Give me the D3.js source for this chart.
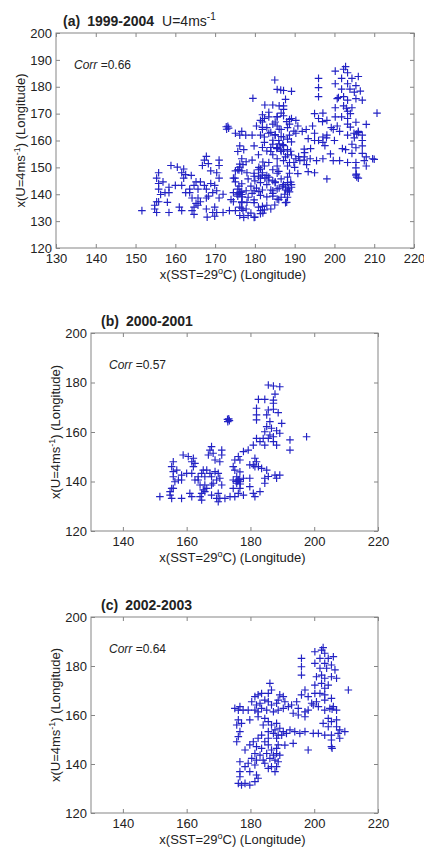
<!DOCTYPE html>
<html>
<head>
<meta charset="utf-8">
<script src="https://cdn.jsdelivr.net/npm/d3@7"></script>
<style>
  body { margin: 0; background: #fff; }
  svg { display: block; }
</style>
</head>
<body>
<div id="chart"></div>
<script>
// points for 2000-2001, [x(SST=29C), x(U=4m/s)] in degrees longitude
var years0001 = [
  [185.6,179],[187.2,178.6],[189.2,178.3],[187.7,175.3],[182.5,173.2],[184.5,173.2],[187.2,172.9],[187.2,171.6],
  [181.9,169.6],[185.6,168.9],[187.2,169.2],[188.7,167.8],[181.9,166.9],[185.1,166.9],[181.9,164.9],[186.1,164.2],
  [189.8,163.5],[172.8,165.1],[173.4,164.6],[172.9,164.2],[173.2,165.3],[185.1,162.2],[186.6,161.5],[188.2,160.5],
  [184.5,160.1],[186.1,158.8],[185.6,157.4],[187.2,158.1],[184,157.4],[189.2,159.5],[181.9,157.4],[183,156.1],
  [187.2,156.1],[184.5,154.7],[188.2,154.7],[192.4,156.8],[192.4,152.7],[197.6,158.1],[180.9,154.7],[179.3,152.7],
  [177.8,152.1],[176.2,150.1],[175.1,148.7],[176.7,148.7],[181.4,149.4],[181.9,148],[180.9,146.7],[179.8,146.7],
  [182.5,146],[181.4,146],[183.5,145.3],[185.1,144.6],[185.6,142],[187.7,142.6],[189.2,142.6],[188.2,141.3],
  [174.6,146],[175.1,144.6],[176.7,143.9],[175.7,141.9],[176.2,140.6],[175.7,139.3],[176.7,139.9],[174.6,140.6],
  [177.8,141.3],[176,140.2],[176.5,140.8],[175.5,140],[176.8,139],[174.6,137.2],[176.7,137.2],[176.2,135.2],
  [175.1,133.9],[177.8,134.5],[179.8,141.3],[179.8,137.9],[180.9,135.2],[181.4,133.9],[183,135.9],[184.5,139.3],
  [184.5,141.3],[173.6,133.9],[172,133.2],[170.4,133.2],[169.9,135.2],[167.8,154.1],[167.3,152.7],[171,152.7],
  [168.3,151.4],[166.8,150.7],[171,150.7],[170.4,148],[168.9,148.7],[165.2,144.6],[166.3,144.6],[164.7,143.3],
  [165.7,141.9],[167.3,143.3],[167.8,141.9],[168.9,144],[169.9,143.3],[169.4,140.6],[168.3,139.3],[170.4,141.3],
  [171,138.6],[167.8,138.6],[163.6,141.9],[163.6,140.6],[162.6,140.6],[164.2,138.6],[160,143.3],[161.6,143.3],
  [158.4,142.6],[158.9,150.7],[160.5,150.1],[162.1,149.4],[161.6,148],[162.6,147.3],[162.1,146],[155.8,148],
  [155.3,146],[156.9,144.6],[155.8,144],[155.8,141.9],[157.4,140.6],[156.3,139.9],[158.4,140.6],[155.3,137.2],
  [155.8,137.2],[154.8,135.9],[151.6,133.9],[154.8,134.5],[155.3,133.2],[158.4,133.2],[161,135.2],[161.6,133.9],
  [164.2,133.9],[164.7,135.2],[165.2,136.6],[165.7,135.9],[164.7,132.5],[167.8,134.5],[169.4,133.2],[169.9,131.8],
  [165.7,138.6],[166.3,137.2]
];

// points for 2002-2003
var years0203 = [
  [202.8,187.5],[202.3,186.5],[200.2,185.8],[203.3,185.2],[204.4,183.1],[201.8,183.1],[206,183.8],[196,183.1],
  [196,179.7],[200.2,181.1],[203.3,181.1],[205.4,180.4],[201.8,179.1],[203.9,179.1],[206.5,178.4],[202.3,176.3],
  [200.7,175.6],[203.3,175],[205.4,175.6],[207,175],[196,176.3],[202.3,172.9],[204.4,172.2],[200.2,172.2],
  [203.3,170.9],[210.7,170.2],[186.1,172.9],[186.6,170.2],[185.6,168.8],[182.4,168.2],[183.5,168.8],[189.2,168.2],
  [190.3,167.5],[188.7,166.1],[190.8,165.4],[197.1,170.2],[196,168.2],[198.1,167.5],[200.2,168.8],[201.8,168.8],
  [203.3,168.2],[194.5,165.4],[199.2,164.8],[200.7,165.4],[203.3,166.1],[205.4,166.8],[184.5,166.1],[185.6,165.4],
  [183,164.8],[186.6,164.1],[188.2,164.8],[181.4,167.5],[180.4,165.4],[181.9,164.1],[176.2,162],[177.7,162],
  [179.3,162],[176.7,163.4],[175.1,162.7],[181.4,162],[182.4,161.3],[183.5,162.7],[185.1,162],[187.2,161.3],
  [188.7,162],[190.3,162.7],[191.9,163.4],[192.9,164.1],[195,162.7],[197.1,161.3],[198.1,162],[199.7,164.1],
  [201.3,163.4],[203.3,162],[204.9,162.7],[206,163.4],[207,162],[205.6,162.4],[193.4,160.7],[195,160],
  [197.1,159.3],[204.4,158.6],[205.4,157.3],[207,158],[202.8,156.6],[204.4,155.2],[207,155.2],[208,153.9],
  [176.2,158],[177.2,156.6],[175.7,155.9],[179.8,158],[176.7,153.2],[176.2,151.2],[175.7,149.1],[182.4,159.3],
  [184.5,158.6],[185.6,157.3],[186.6,155.9],[188.2,156.6],[184,155.9],[187.7,153.9],[189.2,154.6],[190.3,153.2],
  [191.3,152.5],[189.8,151.8],[188.7,151.8],[188.2,150.5],[187.2,152.5],[185.6,153.2],[192.4,153.9],[193.9,153.2],
  [195.5,152.5],[197.1,153.2],[199.7,152.5],[201.3,152.5],[203.3,151.8],[205.4,151.8],[207.5,152.5],[209.6,153.2],
  [208,150.5],[205.4,149.8],[193.4,148.4],[198.1,145.7],[190.8,147.7],[205.4,147.1],[205.6,146.4],[183.5,151.8],
  [182.4,150.5],[180.9,149.1],[184.5,149.1],[185.6,150.5],[179.8,147.8],[181.9,147.1],[183.5,146.4],[185.6,147.8],
  [186.6,145.7],[188.2,146.4],[188.7,147.8],[178.3,145.7],[181.4,144.3],[183,143.6],[185.1,144.3],[187.2,143.6],
  [188.2,144.3],[189.2,143.6],[180.4,142.3],[181.9,141.6],[184,141.6],[186.1,142.3],[187.7,141.6],[188.7,140.9],
  [179.3,140.3],[181.4,139.6],[184.5,140.3],[186.6,138.9],[188.2,138.9],[187.7,136.9],[185.6,138.2],[176.7,140.9],
  [178.3,138.9],[179.8,136.9],[181.9,135.5],[176.7,136.9],[177.2,131.4],[178.3,132.1],[179.8,131.4],[181.4,132.8],
  [182.4,134.2],[176.2,132.1],[176.7,134.8]
];

// the other years (1999, 2004) that only show in panel (a)
var yearsOther = [
  [185,182.5],[186.5,178.8],[179.5,175.7],[183.5,170.5],[188,167],[184,163],[186,160],[187,158.5],[185.5,157],
  [189,156],[191,154],[192.5,155.5],[190,150],[186,148.5],[182,152],[181,150],[183,147],[184.5,145],[187,143],
  [188.5,142],[189,144.5],[187.5,140],[186,138],[188,137],[185,136],[183,139],[181,141],[179,143],[180,145],
  [178,148],[177,151],[175,146],[176,143],[178,137],[177,134],[179,133],[180,131.5],[182,133],[184,134.5],
  [196,160],[198,161],[194,157],[199,155],[202,157],[205,161],[206,163],[204,165],[207,160],[203,172],[205,178],
  [201,176],[204,170],[208,166],[200,160],[206,146],[205.5,147.5],[193,151],[195,148],[210,153],[172,140],
  [174,138],[171,146],[164,147],[158,137],[168,131.5],[176,149],[186.5,156.5],[197,167],[195,170]
];

var years9904 = years0001.concat(years0203, yearsOther);

var xDomain = [130, 220];
var yDomain = [120, 200];

var panels = [
  {label: "(a)", years: "1999-2004", extra: true, corr: "=0.66", pts: years9904,
   left: 56, right: 414, top: 33, bottom: 248,
   xTicks: d3.range(130, 221, 10), yTicks: d3.range(120, 201, 10), ylabX: 20},
  {label: "(b)", years: "2000-2001", extra: false, corr: "=0.57", pts: years0001,
   left: 91, right: 378, top: 333, bottom: 531,
   xTicks: d3.range(140, 221, 20), yTicks: d3.range(120, 201, 20), ylabX: 55},
  {label: "(c)", years: "2002-2003", extra: false, corr: "=0.64", pts: years0203,
   left: 91, right: 378, top: 617, bottom: 813,
   xTicks: d3.range(140, 221, 20), yTicks: d3.range(120, 201, 20), ylabX: 55}
];

var FONT = '"Liberation Sans", Arial, sans-serif';
var AXIS = "#858585";
var TXT = "#222";

var svg = d3.select("#chart").append("svg")
    .attr("width", 424)
    .attr("height", 855)
    .style("font-family", FONT);

panels.forEach(function(p){
  var x = d3.scaleLinear().domain(xDomain).range([p.left, p.right]);
  var y = d3.scaleLinear().domain(yDomain).range([p.bottom, p.top]);
  var g = svg.append("g");

  // bottom axis with labels, ticks point inward
  g.append("g")
      .attr("transform", "translate(0," + p.bottom + ")")
      .call(d3.axisBottom(x).tickValues(p.xTicks).tickSizeInner(-4).tickSizeOuter(0).tickPadding(6));
  // top axis, ticks only
  g.append("g")
      .attr("transform", "translate(0," + p.top + ")")
      .call(d3.axisTop(x).tickValues(p.xTicks).tickSizeInner(-4).tickSizeOuter(0).tickFormat(""));
  // left axis with labels
  g.append("g")
      .attr("transform", "translate(" + p.left + ",0)")
      .call(d3.axisLeft(y).tickValues(p.yTicks).tickSizeInner(-4).tickSizeOuter(0).tickPadding(4));
  // right axis, ticks only
  g.append("g")
      .attr("transform", "translate(" + p.right + ",0)")
      .call(d3.axisRight(y).tickValues(p.yTicks).tickSizeInner(-4).tickSizeOuter(0).tickFormat(""));

  g.selectAll(".domain").remove();
  g.selectAll(".tick line").attr("stroke", AXIS);
  g.selectAll(".tick text")
      .attr("font-size", 13)
      .attr("font-family", FONT)
      .attr("fill", TXT);

  // box
  g.append("rect")
      .attr("x", p.left)
      .attr("y", p.top)
      .attr("width", p.right - p.left)
      .attr("height", p.bottom - p.top)
      .attr("fill", "none")
      .attr("stroke", AXIS)
      .attr("stroke-width", 1);

  // plus markers
  g.selectAll("path.pt")
      .data(p.pts)
    .join("path")
      .attr("class", "pt")
      .attr("transform", function(d){ return "translate(" + x(d[0]) + "," + y(d[1]) + ")"; })
      .attr("d", "M-3.8,0H3.8M0,-3.8V3.8")
      .attr("stroke", "#2222c4")
      .attr("stroke-width", 1.15)
      .attr("fill", "none");

  // title
  var t = g.append("text")
      .attr("x", p.left + 7 + (p.extra ? 0 : 3))
      .attr("y", p.top - 7)
      .attr("font-size", 14)
      .attr("fill", TXT);
  t.append("tspan").attr("font-weight", "bold").text(p.label);
  t.append("tspan").attr("font-weight", "bold").attr("dx", 7).text(p.years);
  if (p.extra) {
    t.append("tspan").attr("dx", 8).text("U=4ms");
    t.append("tspan").attr("dy", -6).attr("font-size", 10).text("-1");
  }

  // correlation
  var c = g.append("text")
      .attr("x", p.left + 18)
      .attr("y", p.top + 36)
      .attr("font-size", 12)
      .attr("fill", TXT);
  c.append("tspan").attr("font-style", "italic").text("Corr");
  c.append("tspan").text(" " + p.corr);

  // x label
  var xl = g.append("text")
      .attr("x", (p.left + p.right) / 2 - 2)
      .attr("y", p.bottom + 31)
      .attr("text-anchor", "middle")
      .attr("font-size", 13)
      .attr("fill", TXT);
  xl.append("tspan").text("x(SST=29");
  xl.append("tspan").attr("dy", -5).attr("font-size", 9).text("o");
  xl.append("tspan").attr("dy", 5).text("C) (Longitude)");

  // y label
  var yl = g.append("text")
      .attr("transform", "translate(" + p.ylabX + "," + (p.top + p.bottom) / 2 + ") rotate(-90)")
      .attr("text-anchor", "middle")
      .attr("dy", "0.35em")
      .attr("font-size", 13)
      .attr("fill", TXT);
  yl.append("tspan").text("x(U=4ms");
  yl.append("tspan").attr("dy", -5).attr("font-size", 9).text("-1");
  yl.append("tspan").attr("dy", 5).text(")  (Longitude)");
});
</script>
</body>
</html>
